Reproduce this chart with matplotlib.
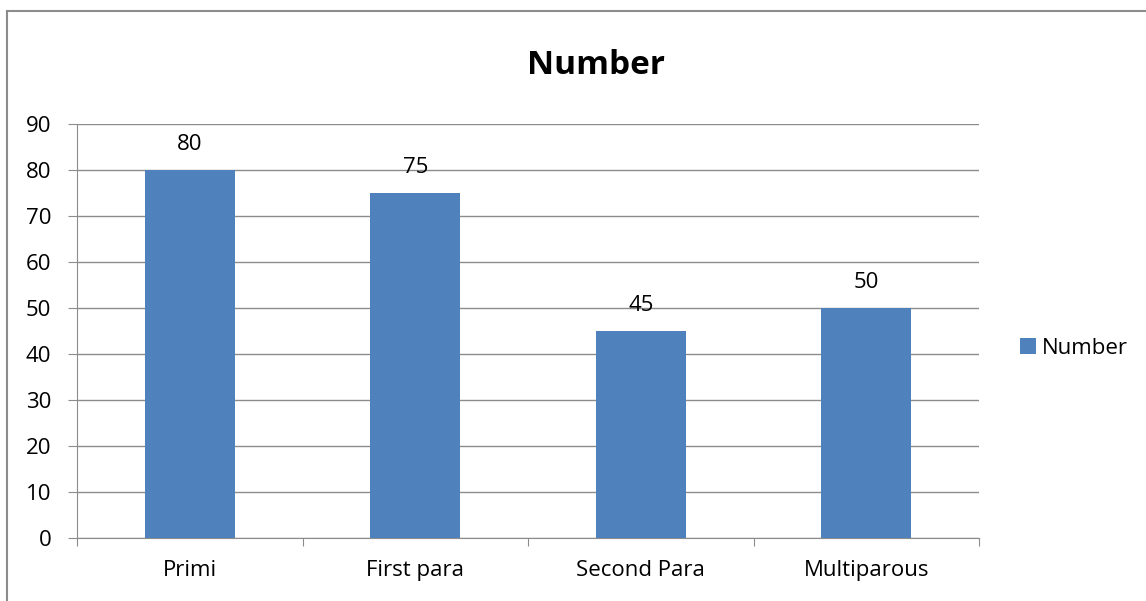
import numpy as np
import matplotlib.pyplot as plt
from matplotlib.lines import Line2D

categories = ['Primi', 'First para', 'Second Para', 'Multiparous']
values = [80, 75, 45, 50]
yticks = list(range(0, 100, 10))

plt.rcParams['font.family'] = ['Open Sans', 'DejaVu Sans']

fig = plt.figure(figsize=(11.46, 6.01), dpi=100)
ax = fig.add_axes([77/1146, 1 - 538/601, 902/1146, 414/601])

x = np.arange(len(categories))
bars = ax.bar(x, values, width=0.4, color='#4F81BD', zorder=3, label='Number')
for xi, v in zip(x, values):
    ax.text(xi, v + 5.6, str(v), ha='center', va='center', fontsize=16)

ax.set_xlim(-0.5, len(categories) - 0.5)
ax.set_ylim(0, 90)
ax.set_yticks(yticks)
ax.set_yticklabels([str(t) for t in yticks], fontsize=16)
ax.yaxis.grid(True, color='#8c8c8c', linewidth=1, zorder=0)
ax.set_xticks(np.arange(-0.5, len(categories), 1.0))
ax.set_xticklabels([])
ax.set_xticks(x, minor=True)
ax.set_xticklabels(categories, minor=True, fontsize=16)
ax.tick_params(axis='x', which='minor', length=0, pad=16)
ax.tick_params(axis='x', which='major', length=6, color='#8c8c8c', direction='out')
ax.tick_params(axis='y', length=6.5, color='#8c8c8c', direction='out', pad=12)
for s in ['top', 'right']:
    ax.spines[s].set_visible(False)
ax.spines['left'].set_color('#8c8c8c')
ax.spines['bottom'].set_color('#8c8c8c')

fig.text(596/1146, 1 - 65/601, 'Number', ha='center', va='center',
         fontsize=24, fontweight='bold')

fig.legend(handles=[bars], loc='center left', bbox_to_anchor=(1020/1146, 1 - 348/601),
           frameon=False, fontsize=16, handlelength=0.7, handleheight=0.7,
           handletextpad=0.3, borderaxespad=0, borderpad=0)

# chart frame
fig.add_artist(Line2D([7/1146, 7/1146], [0, 1 - 11/601], color='#8c8c8c', lw=1.5))
fig.add_artist(Line2D([7/1146, 1], [1 - 11/601, 1 - 11/601], color='#8c8c8c', lw=1.5))

fig.savefig('out.png', dpi=100)
